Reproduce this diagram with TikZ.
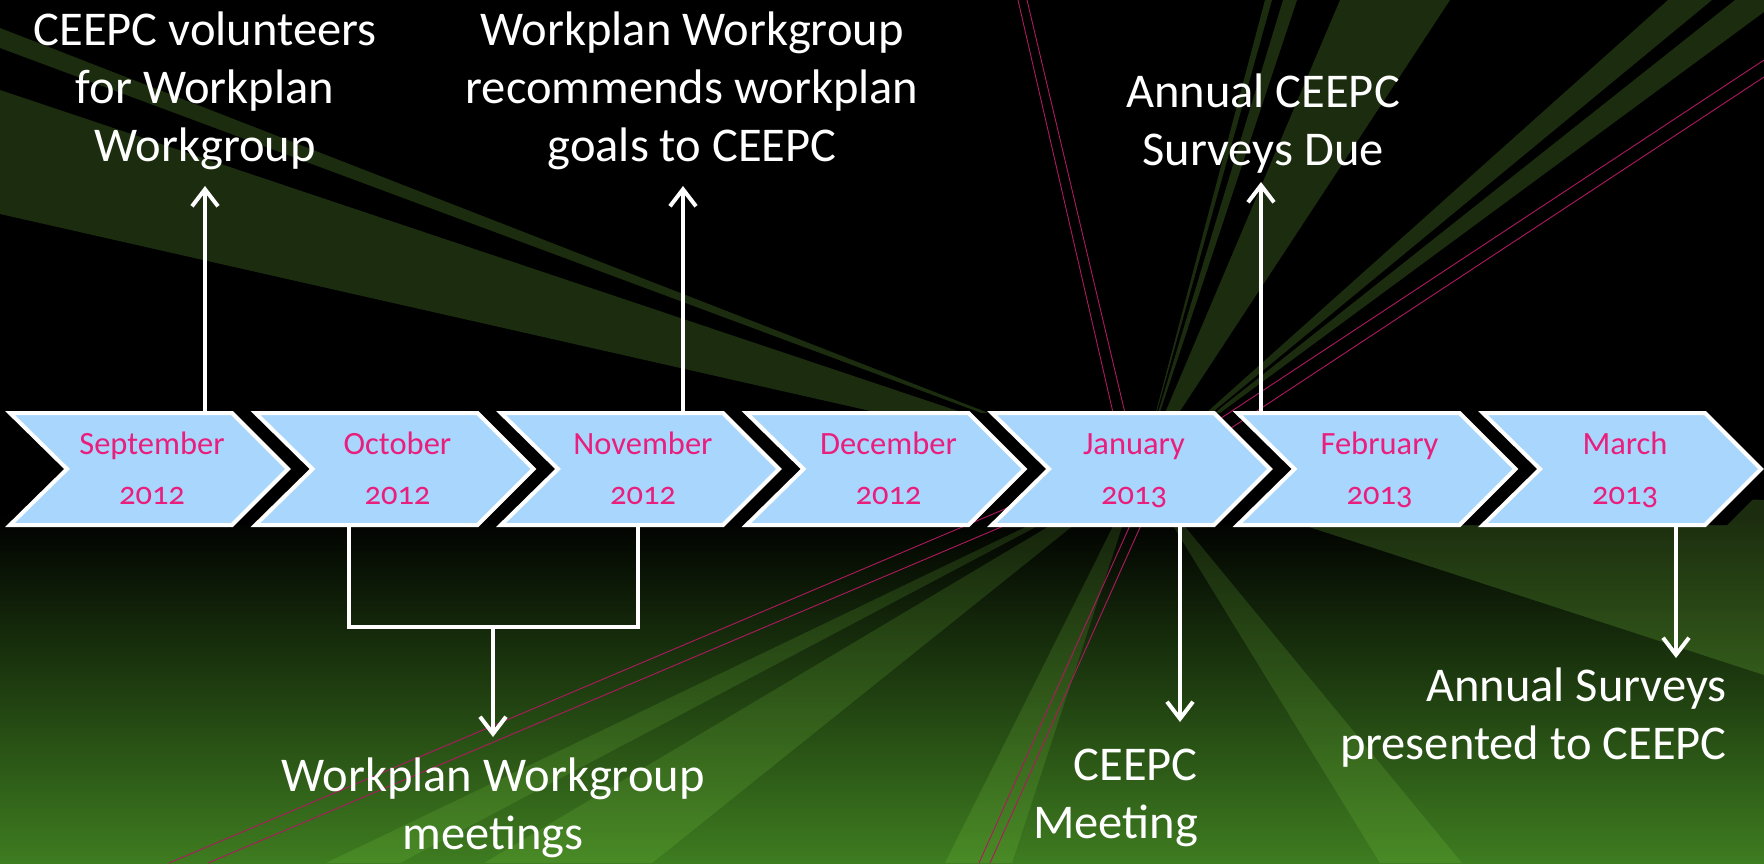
\documentclass[tikz,border=0pt]{standalone}
\usepackage{fontspec}
\setmainfont{Carlito}
\newfontfamily\monthfont{Carlito}[Numbers=OldStyle]
\usetikzlibrary{arrows.meta}
\definecolor{chevfill}{RGB}{168,214,252}
\definecolor{monthpink}{RGB}{233,30,125}
\definecolor{raytint}{RGB}{140,225,75}
\definecolor{bggreen}{RGB}{62,124,32}
\definecolor{pinkline}{RGB}{175,25,95}
\begin{document}
\begin{tikzpicture}[x=1pt,y=-1pt,
  ray/.style={fill=raytint, fill opacity=0.2},
  lowray/.style={fill=raytint, fill opacity=0.15},
  pline/.style={draw=pinkline, line width=0.9pt},
  chevshape/.style={fill=chevfill, draw=white, line width=4pt, line join=miter},
  chevbox/.style={minimum width=278pt, minimum height=112pt, inner sep=0pt, outer sep=0pt},
  month/.style={text=monthpink, font=\monthfont\fontsize{32.5}{38}\selectfont, inner sep=0pt, anchor=base},
  lbl/.style={text=white, font=\fontsize{48.5}{58}\selectfont, align=center, inner sep=0pt},
  conn/.style={draw=white, line width=4pt, line join=miter},
  arr/.style={conn, -{Straight Barb[length=17pt, width=26pt]}}]
\useasboundingbox (0,0) rectangle (1764,863);
% background
\fill[black] (0,0) rectangle (1764,863);
\shade[top color=black, bottom color=bggreen] (0,515) rectangle (1764,863);
\coordinate (O) at (1140,472);
% rays
\fill[ray] (O) -- (0,28) -- (0,48) -- cycle;
\fill[ray] (O) -- (0,90) -- (0,214) -- cycle;
\fill[ray] (O) -- (1265,0) -- (1272,0) -- cycle;
\fill[ray] (O) -- (1283,0) -- (1297,0) -- cycle;
\fill[ray] (O) -- (1340,0) -- (1450,0) -- cycle;
\fill[ray] (O) -- (1668,0) -- (1712,0) -- cycle;
\fill[ray] (O) -- (1735,0) -- (1764,0) -- (1764,12) -- cycle;
\fill[lowray] (O) -- (326,863) -- (400,863) -- cycle;
\fill[lowray] (O) -- (484,863) -- (652,863) -- cycle;
\fill[lowray] (O) -- (945,863) -- (1012,863) -- cycle;
\fill[lowray] (O) -- (1380,863) -- (1462,863) -- cycle;
\fill[ray] (O) -- (1764,500) -- (1764,675) -- cycle;
% chevron shadows
\foreach \i in {0,...,6}{
  \pgfmathsetmacro\L{10+245.5*\i}
  \fill[black] (\L+22,413) -- ++(222,0) -- ++(56,56) -- ++(-56,56) -- ++(-222,0) -- ++(57,-56) -- cycle;
}
% pink lines
\draw[pline] (1018,0) -- (1117,430);
\draw[pline] (1027,0) -- (1129,430);
\draw[pline] (1140,503) -- (979,863);
\draw[pline] (1150,505) -- (990,863);
\draw[pline] (1764,60) -- (1200,432);
\draw[pline] (1764,77) -- (1225,432);
\draw[pline] (169,863) -- (1026,500);
\draw[pline] (208,863) -- (1065,500);
% chevrons
\foreach \i/\m/\yr in {0/September/2012,1/October/2012,2/November/2012,3/December/2012,4/January/2013,5/February/2013,6/March/2013}{
  \pgfmathsetmacro\L{10+245.5*\i}
  \path[chevshape] (\L,413) -- ++(222,0) -- ++(56,56) -- ++(-56,56) -- ++(-222,0) -- ++(57,-56) -- cycle;
  \node[chevbox] (ch\i) at (\L+139,469) {};
  \node[month] (m\i) at (\L+142,454) {\m};
  \node[month] (y\i) at (\L+142,504) {\yr};
}
% labels
\node[lbl, anchor=north] (t1) at (205,12) {CEEPC volunteers\\for Workplan\\Workgroup};
\node[lbl, anchor=north] (t2) at (692,12) {Workplan Workgroup\\recommends workplan\\goals to CEEPC};
\node[lbl, anchor=north] (t3) at (1263,74) {Annual CEEPC\\Surveys Due};
\node[lbl, anchor=north] (b1) at (493,758) {Workplan Workgroup\\meetings};
\node[lbl, anchor=north east, align=right] (b2) at (1198,749) {CEEPC\\Meeting};
\node[lbl, anchor=north east, align=right] (b3) at (1727,668) {Annual Surveys\\presented to CEEPC};
% connector end points
\coordinate (tU1) at (205,186);
\coordinate (tU2) at (683,186);
\coordinate (tU3) at (1261,182);
\coordinate (bkL) at (349,627);
\coordinate (bkM) at (493,627);
\coordinate (bkR) at (638,627);
\coordinate (tD1) at (493,737);
\coordinate (tD2) at (1180,722);
\coordinate (tD3) at (1676,658);
% connectors
\draw[arr] (ch0.north -| tU1) -- (tU1);
\draw[arr] (ch2.north -| tU2) -- (tU2);
\draw[arr] (ch5.north -| tU3) -- (tU3);
\draw[conn] (ch1.south -| bkL) -- (bkL) -- (bkR) -- (ch2.south -| bkR);
\draw[arr] (bkM) -- (tD1);
\draw[arr] (ch4.south -| tD2) -- (tD2);
\draw[arr] (ch6.south -| tD3) -- (tD3);
\end{tikzpicture}
\end{document}
